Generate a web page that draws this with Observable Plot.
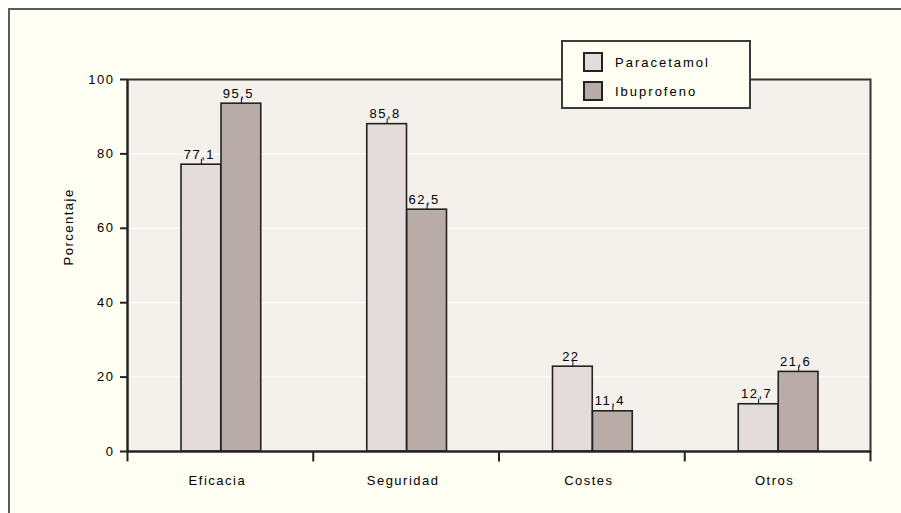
<!DOCTYPE html>
<html>
<head>
<meta charset="utf-8">
<script src="https://cdn.jsdelivr.net/npm/d3@7"></script>
<script src="https://cdn.jsdelivr.net/npm/@observablehq/plot@0.6"></script>
<style>
  html, body { margin: 0; padding: 0; background: #ffffff; }
  #wrap { position: relative; width: 901px; height: 513px; overflow: hidden; background: #ffffff; }
  #outer { position: absolute; left: 8px; top: 8px; width: 900px; height: 510px;
           border-left: 2px solid #5c5c58; border-top: 2px solid #5c5c58; background: #fefef3; }
  #chart { position: absolute; left: 0; top: 0; }
  #legend { position: absolute; left: 561px; top: 40px; width: 186px; height: 65px;
            border: 2px solid #3a3a3a; background: #fefef3;
            font: 13px "Liberation Sans", Arial, sans-serif; letter-spacing: 2px; color: #000; }
  .item { position: absolute; left: 20px; height: 20px; display: flex; align-items: center; }
  .sw { width: 16px; height: 16px; border: 2px solid #222; margin-right: 12px; }
</style>
</head>
<body>
<div id="wrap">
  <div id="outer"></div>
  <div id="chart"></div>
  <div id="legend"></div>
</div>
<script>
// Data
const categories = ["Eficacia", "Seguridad", "Costes", "Otros"];
const series = ["Paracetamol", "Ibuprofeno"];
const paracetamol = [77.1, 88.0, 22.8, 12.7];
const ibuprofeno = [93.5, 65.0, 10.8, 21.4];
const paracetamolLabels = ["77,1", "85,8", "22", "12,7"];
const ibuprofenoLabels = ["95,5", "62,5", "11,4", "21,6"];
const yTicks = [0, 20, 40, 60, 80, 100];
const gridLines = [20, 40, 60, 80];
const colors = ["#e3dcda", "#b9aba7"];

const rowsP = categories.map((c, i) => ({cat: c, ci: i, v: paracetamol[i], label: paracetamolLabels[i]}));
const rowsI = categories.map((c, i) => ({cat: c, ci: i, v: ibuprofeno[i], label: ibuprofenoLabels[i]}));
const bounds = d3.range(categories.length + 1);

const font = "'Liberation Sans', Arial, sans-serif";

const chart = Plot.plot({
  width: 901,
  height: 513,
  marginLeft: 127,
  marginRight: 31,
  marginTop: 79,
  marginBottom: 62,
  style: { background: "transparent", fontFamily: font, fontSize: "12px", color: "#000", letterSpacing: "1.5px" },
  x: { type: "linear", domain: [0, categories.length], axis: null },
  y: { domain: [0, 100], axis: null },
  marks: [
    Plot.frame({ fill: "#f4f0ec" }),
    Plot.ruleY(gridLines, { stroke: "#fffcf2", strokeWidth: 1.5 }),
    Plot.rectY(rowsP, { x1: d => d.ci, x2: d => d.ci + 1, y: "v", insetLeft: 54, insetRight: 92,
      fill: colors[0], stroke: "#222", strokeWidth: 1.6 }),
    Plot.rectY(rowsI, { x1: d => d.ci, x2: d => d.ci + 1, y: "v", insetLeft: 94, insetRight: 52,
      fill: colors[1], stroke: "#222", strokeWidth: 1.6 }),
    Plot.ruleX(rowsP, { x: d => d.ci + 0.5, dx: -19, y1: "v", y2: d => d.v + 1.4, stroke: "#111" }),
    Plot.ruleX(rowsI, { x: d => d.ci + 0.5, dx: 21, y1: "v", y2: d => d.v + 1.4, stroke: "#111" }),
    Plot.text(rowsP, { x: d => d.ci + 0.5, dx: -21, y: "v", dy: -6, lineAnchor: "bottom",
      text: "label", fontSize: 13, fill: "#000" }),
    Plot.text(rowsI, { x: d => d.ci + 0.5, dx: 18, y: "v", dy: -6, lineAnchor: "bottom",
      text: "label", fontSize: 13, fill: "#000" }),
    Plot.frame({ stroke: "#333", strokeWidth: 2 }),
    Plot.ruleY([0], { stroke: "#222", strokeWidth: 2 }),
    Plot.ruleX([0], { y1: 0, y2: 100, stroke: "#222", strokeWidth: 2 }),
    Plot.ruleX(bounds, { y1: 0, y2: -2.8, stroke: "#222", strokeWidth: 2 }),
    Plot.axisY({ ticks: yTicks, tickSize: 7, tickPadding: 6, label: null, fontSize: 13,
      stroke: "#222", strokeWidth: 2, fill: "#000" }),
    Plot.text(categories, { x: (d, i) => i + 0.5, dx: -3, y: 0, dy: 29, text: d => d, fontSize: 13, fill: "#000" }),
    Plot.text(["Porcentaje"], { frameAnchor: "left", dx: -59, rotate: -90, text: d => d, fontSize: 13, fill: "#000" })
  ]
});
document.getElementById("chart").appendChild(chart);

// Legend
const legend = document.getElementById("legend");
series.forEach((s, i) => {
  const item = document.createElement("div");
  item.className = "item";
  item.style.top = (10 + i * 29) + "px";
  const sw = document.createElement("div");
  sw.className = "sw";
  sw.style.background = colors[i];
  item.appendChild(sw);
  const t = document.createElement("span");
  t.textContent = s;
  item.appendChild(t);
  legend.appendChild(item);
});
</script>
</body>
</html>
